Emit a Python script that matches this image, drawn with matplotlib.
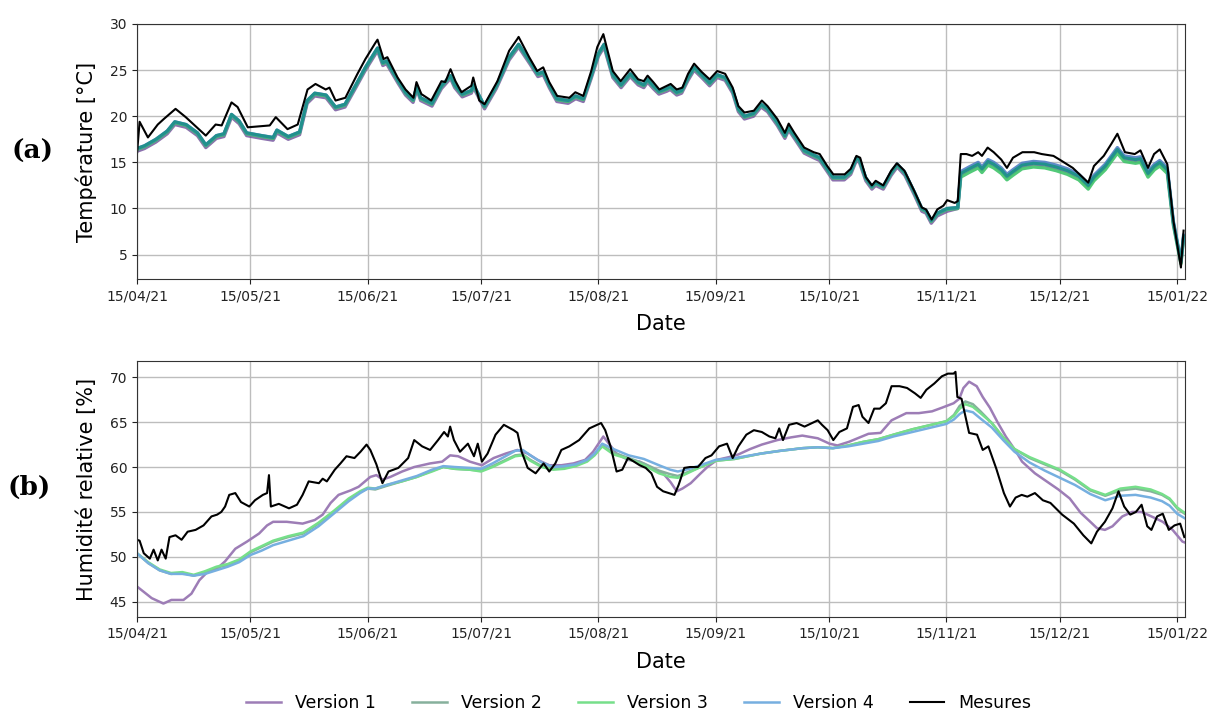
import numpy as np
import pandas as pd
import matplotlib
matplotlib.use('Agg')
import matplotlib.pyplot as plt
import matplotlib.dates as mdates

# ---------------------------------------------------------------
# Donnees (jours depuis le 15/04/21)
# ---------------------------------------------------------------
debut = pd.Timestamp('2021-04-15')
fin = pd.Timestamp('2022-01-17 04:00')

# (a) Temperature - mesures
mt_jours = [0, 0.7, 2.9, 5.5, 7.1, 10.2, 12.9, 18.2, 20.8, 22.4, 25.0, 26.6, 29.3, 35.1, 36.7, 39.8, 42.5,
            45.1, 47.2, 49.9, 50.9, 52.5, 55.1, 58.3, 60.4, 63.1, 63.6, 65.2, 66.2, 68.9, 71.0, 73.1, 73.9,
            75.2, 77.8, 80.5, 81.5, 82.9, 84.2, 85.8, 88.4, 88.9, 90.5, 91.9, 95.3, 98.4, 100.6, 100.9,
            103.7, 105.8, 107.4, 109.0, 111.1, 114.3, 115.9, 118.0, 120.1, 121.7, 123.3, 125.8, 127.9,
            130.4, 132.5, 134.0, 135.0, 136.5, 138.1, 140.1, 141.1, 142.7, 144.2, 145.7, 147.3, 149.3,
            151.4, 153.4, 155.5, 157.5, 159.0, 160.6, 163.1, 165.2, 166.7, 169.3, 171.3, 172.3, 173.8,
            176.4, 178.9, 180.5, 182.5, 184.1, 187.1, 188.7, 190.2, 191.2, 192.7, 194.3, 195.3, 197.3,
            199.4, 200.9, 202.9, 205.5, 207.5, 208.6, 210.1, 211.6, 213.2, 214.2, 216.2, 217.0, 217.8,
            219.3, 220.8, 222.4, 223.4, 224.9, 226.5, 228.5, 230.0, 231.6, 234.1, 237.2, 239.2, 242.3,
            244.3, 247.4, 251.5, 253.0, 255.6, 257.6, 259.2, 261.2, 263.8, 265.3, 267.3, 268.9, 270.4,
            272.4, 274.0, 276.0, 276.7]
mt_vals = [15.9, 19.4, 17.7, 19.1, 19.7, 20.8, 19.9, 17.9, 19.1, 19.0, 21.5, 21.0, 18.8, 19.0, 19.9, 18.6, 19.1,
           22.9, 23.5, 22.9, 23.1, 21.7, 22.0, 24.6, 26.2, 28.0, 28.3, 26.2, 26.4, 24.2, 22.9, 22.0, 23.7,
           22.4, 21.7, 23.8, 23.7, 25.1, 23.8, 22.6, 23.3, 24.2, 21.7, 21.3, 23.8, 27.1, 28.4, 28.6,
           26.4, 24.9, 25.3, 23.7, 22.2, 22.0, 22.6, 22.2, 24.9, 27.5, 28.9, 24.9, 23.8,
           25.1, 24.0, 23.8, 24.4, 23.7, 22.9, 23.3, 23.5, 22.9, 23.1, 24.6, 25.7, 24.8,
           24.0, 24.9, 24.6, 23.1, 21.1, 20.4, 20.6, 21.7, 21.1, 19.7, 18.2, 19.2, 18.2,
           16.6, 16.1, 15.9, 14.6, 13.7, 13.7, 14.3, 15.7, 15.5, 13.4, 12.5, 13.0, 12.5,
           14.1, 14.9, 14.1, 11.9, 10.1, 9.9, 8.8, 9.9, 10.3, 10.9, 10.6, 10.8, 15.9,
           15.9, 15.7, 16.1, 15.7, 16.6, 16.1, 15.3, 14.4, 15.5, 16.1, 16.1, 15.9, 15.7,
           15.2, 14.4, 12.8, 14.6, 15.7, 17.0, 18.1, 16.1, 15.9, 16.3, 14.4, 15.9, 16.4,
           14.8, 8.7, 3.6, 7.6]

# (a) Temperature - versions du modele
tv_jours = [0, 2, 5, 8, 10, 13, 16, 18.2, 21, 23, 25, 27, 29, 33, 36, 37, 40, 43, 45, 47, 50, 52.5, 55, 58,
            60.4, 63.6, 65, 66, 69, 71, 73, 74, 75, 78, 80.5, 82.9, 84, 86, 88.4, 89, 91.9, 95, 98.4, 100.9,
            104, 106, 107.4, 109, 111, 114, 116, 118, 120, 122, 123.5, 125.8, 128, 130.4, 132.5, 134, 135,
            136.5, 138, 140, 141, 142.7, 144, 145.7, 147.3, 149.3, 151.4, 153.4, 155.5, 157.5, 159, 160.6,
            163, 165, 166.7, 169.3, 171.3, 172.3, 173.8, 176.4, 178.9, 180.5, 182.5, 184, 187, 188.7, 190.2,
            191, 192.7, 194.3, 195.3, 197.3, 199.4, 201, 203, 205.5, 207.5, 208.6, 210, 211.6, 213.2, 214.2,
            217, 217.8, 220, 222.4, 223.4, 225, 226.5, 228.5, 230, 231.6, 234, 237, 240, 243, 246, 249,
            251.5, 253, 256, 259.2, 261, 264, 265.3, 267.3, 269, 270.4, 272.4, 274, 276, 276.7]
t_v1 = [16.2, 16.5, 17.2, 18.1, 19.1, 18.8, 17.9, 16.6, 17.6, 17.8, 19.9, 19.2, 17.9, 17.6, 17.4, 18.2, 17.5, 18.0,
        21.4, 22.2, 22.0, 20.7, 21.0, 23.2, 25.0, 27.1, 25.5, 25.7, 23.6, 22.3, 21.5, 22.9, 21.7, 21.1, 23.0,
        24.1, 23.1, 22.1, 22.5, 23.1, 20.8, 23.0, 26.1, 27.5, 25.6, 24.3, 24.5, 23.1, 21.6, 21.4, 21.9, 21.6,
        24.0, 26.5, 27.5, 24.2, 23.1, 24.3, 23.4, 23.1, 23.7, 23.0, 22.4, 22.7, 22.9, 22.3, 22.5, 23.9, 25.0,
        24.2, 23.3, 24.2, 23.9, 22.5, 20.5, 19.7, 20.0, 21.0, 20.5, 19.0, 17.6, 18.5, 17.6, 16.0, 15.5, 15.2,
        14.0, 13.1, 13.1, 13.7, 15.2, 15.0, 13.0, 12.1, 12.5, 12.1, 13.6, 14.5, 13.6, 11.5, 9.7, 9.5, 8.4,
        9.2, 9.5, 9.7,
        10.0, 13.7, 14.2, 14.7, 14.2, 15.0, 14.7, 14.1, 13.4, 13.9, 14.6, 14.8, 14.7, 14.4, 14.0, 13.4, 12.4,
        13.3, 14.5, 16.3, 15.4, 15.2, 15.3, 13.7, 14.5, 14.9, 14.1, 8.4, 4.1, 6.9]
t_v2 = [16.5, 16.8, 17.5, 18.4, 19.4, 19.1, 18.2, 16.9, 17.9, 18.1, 20.2, 19.5, 18.2, 17.9, 17.7, 18.5, 17.8, 18.3,
        21.7, 22.5, 22.3, 21.0, 21.3, 23.5, 25.3, 27.4, 25.8, 26.0, 23.9, 22.6, 21.8, 23.2, 22.0, 21.4, 23.3,
        24.4, 23.4, 22.4, 22.8, 23.4, 21.1, 23.3, 26.4, 27.8, 25.9, 24.6, 24.8, 23.4, 21.9, 21.7, 22.2, 21.9,
        24.3, 26.8, 27.8, 24.5, 23.4, 24.6, 23.7, 23.4, 24.0, 23.3, 22.7, 23.0, 23.2, 22.6, 22.8, 24.2, 25.3,
        24.5, 23.6, 24.5, 24.2, 22.8, 20.8, 20.0, 20.3, 21.3, 20.8, 19.3, 17.9, 18.8, 17.9, 16.3, 15.8, 15.5,
        14.3, 13.4, 13.4, 14.0, 15.5, 15.3, 13.3, 12.4, 12.8, 12.4, 13.9, 14.8, 13.9, 11.8, 10.0, 9.8, 8.7,
        9.5, 9.8, 10.0,
        10.1, 13.8, 14.3, 14.8, 14.3, 15.1, 14.8, 14.2, 13.5, 14.0, 14.7, 14.9, 14.8, 14.5, 14.1, 13.5, 12.5,
        13.4, 14.6, 16.4, 15.5, 15.3, 15.4, 13.8, 14.6, 15.0, 14.2, 8.5, 4.2, 7.0]
t_v3 = [16.4, 16.7, 17.4, 18.3, 19.3, 19.0, 18.1, 16.8, 17.8, 18.0, 20.1, 19.4, 18.1, 17.8, 17.6, 18.4, 17.7, 18.2,
        21.6, 22.4, 22.2, 20.9, 21.2, 23.4, 25.2, 27.3, 25.7, 25.9, 23.8, 22.5, 21.7, 23.1, 21.9, 21.3, 23.2,
        24.3, 23.3, 22.3, 22.7, 23.3, 21.0, 23.2, 26.3, 27.7, 25.8, 24.5, 24.7, 23.3, 21.8, 21.6, 22.1, 21.8,
        24.2, 26.7, 27.7, 24.4, 23.3, 24.5, 23.6, 23.3, 23.9, 23.2, 22.6, 22.9, 23.1, 22.5, 22.7, 24.1, 25.2,
        24.4, 23.5, 24.4, 24.1, 22.7, 20.7, 19.9, 20.2, 21.2, 20.7, 19.2, 17.8, 18.7, 17.8, 16.2, 15.7, 15.4,
        14.2, 13.3, 13.3, 13.9, 15.4, 15.2, 13.2, 12.3, 12.7, 12.3, 13.8, 14.7, 13.8, 11.7, 9.9, 9.7, 8.6,
        9.4, 9.7, 9.9,
        10.0, 13.4, 13.9, 14.4, 13.9, 14.7, 14.4, 13.8, 13.1, 13.6, 14.3, 14.5, 14.4, 14.1, 13.7, 13.1, 12.1,
        13.0, 14.2, 16.0, 15.1, 14.9, 15.0, 13.4, 14.2, 14.6, 13.8, 8.2, 4.0, 6.8]
t_v4 = [16.5, 16.8, 17.5, 18.4, 19.4, 19.1, 18.2, 16.9, 17.9, 18.1, 20.2, 19.5, 18.2, 17.9, 17.7, 18.5, 17.8, 18.3,
        21.7, 22.5, 22.3, 21.0, 21.3, 23.5, 25.3, 27.4, 25.8, 26.0, 23.9, 22.6, 21.8, 23.2, 22.0, 21.4, 23.3,
        24.4, 23.4, 22.4, 22.8, 23.4, 21.1, 23.3, 26.4, 27.8, 25.9, 24.6, 24.8, 23.4, 21.9, 21.7, 22.2, 21.9,
        24.3, 26.8, 27.8, 24.5, 23.4, 24.6, 23.7, 23.4, 24.0, 23.3, 22.7, 23.0, 23.2, 22.6, 22.8, 24.2, 25.3,
        24.5, 23.6, 24.5, 24.2, 22.8, 20.8, 20.0, 20.3, 21.3, 20.8, 19.3, 17.9, 18.8, 17.9, 16.3, 15.8, 15.5,
        14.3, 13.4, 13.4, 14.0, 15.5, 15.3, 13.3, 12.4, 12.8, 12.4, 13.9, 14.8, 13.9, 11.8, 10.0, 9.8, 8.7,
        9.5, 9.8, 10.0,
        10.1, 14.0, 14.5, 15.0, 14.5, 15.3, 15.0, 14.4, 13.7, 14.2, 14.9, 15.1, 15.0, 14.7, 14.3, 13.7, 12.7,
        13.6, 14.8, 16.6, 15.7, 15.5, 15.6, 14.0, 14.8, 15.2, 14.4, 8.6, 4.3, 7.1]

# (b) Humidite relative - mesures
mb_jours = [0, 0.7, 1.8, 3.4, 4.4, 5.5, 6.5, 7.6, 8.6, 10.2, 11.8, 13.4, 15.5, 17.6, 19.7, 21.2, 22.3, 23.3,
            24.4, 26.0, 27.5, 29.7, 31.2, 33.3, 34.4, 34.9, 35.4, 37.5, 40.2, 42.3, 43.8, 45.4, 48.1, 49.1,
            50.2, 52.3, 53.8, 55.4, 57.5, 59.1, 60.7, 61.7, 63.3, 64.9, 66.5, 69.1, 71.7, 73.3, 75.4, 77.5,
            79.6, 81.2, 82.2, 82.8, 83.8, 85.4, 87.5, 89.1, 90.1, 91.2, 92.7, 94.8, 97.0, 99.6, 100.6, 101.7,
            103.3, 105.4, 107.5, 109.0, 110.6, 112.2, 114.3, 116.9, 119.6, 121.7, 122.7, 123.8, 125.2, 126.8,
            128.3, 129.8, 131.4, 132.9, 134.5, 136.0, 137.5, 139.1, 140.6, 142.1, 143.2, 144.7, 146.2, 148.3,
            150.3, 151.9, 153.9, 156.0, 157.5, 159.0, 161.1, 163.1, 165.2, 167.2, 168.8, 169.8, 170.8, 172.4,
            174.4, 176.5, 178.5, 180.0, 181.1, 182.6, 184.1, 185.7, 187.7, 189.3, 190.8, 191.8, 193.4, 194.9,
            196.4, 198.0, 199.5, 201.6, 203.6, 205.7, 207.2, 208.7, 210.8, 212.8, 214.4, 215.9, 216.4, 216.9,
            218.0, 220.0, 222.1, 223.6, 225.1, 227.2, 229.2, 230.8, 232.3, 233.9, 235.4, 237.4, 239.5, 241.5,
            244.6, 247.7, 250.2, 252.3, 253.8, 255.9, 257.9, 259.5, 261.0, 262.6, 264.1, 265.6, 267.1, 268.2,
            269.7, 271.2, 272.8, 274.3, 275.8, 276.9]
mb_vals = [51.9, 51.8, 50.4, 49.8, 50.8, 49.6, 50.8, 49.8, 52.2, 52.4, 51.9, 52.8, 53.0, 53.5, 54.5, 54.7, 55.0, 55.6,
           56.9, 57.1, 56.1, 55.6, 56.3, 56.9, 57.1, 59.1, 55.6, 55.9, 55.4, 55.8, 56.9, 58.4, 58.2, 58.7,
           58.4, 59.7, 60.4, 61.2, 61.0, 61.7, 62.5, 61.9, 60.3, 58.2, 59.5, 59.9, 61.0, 63.0, 62.3, 61.9,
           63.0, 63.9, 63.4, 64.5, 63.0, 61.7, 62.6, 61.2, 62.6, 60.6, 61.5, 63.6, 64.7, 64.1, 63.8, 61.7,
           59.9, 59.3, 60.4, 59.5, 60.4, 61.9, 62.3, 63.0, 64.3, 64.7, 64.9, 64.1, 62.3, 59.5,
           59.7, 61.0, 60.6, 60.2, 59.9, 59.3, 57.8, 57.3, 57.1, 56.9, 58.0, 59.9, 60.0, 60.0,
           61.0, 61.3, 62.3, 62.6, 61.0, 62.3, 63.6, 64.1, 63.9, 63.4, 63.2, 64.3, 63.0, 64.7,
           64.9, 64.5, 64.9, 65.2, 64.7, 64.1, 63.0, 63.9, 64.3, 66.7, 66.9, 65.6, 64.9, 66.5,
           66.5, 67.1, 69.0, 69.0, 68.8, 68.2, 67.7, 68.6, 69.3, 70.1, 70.4, 70.4, 70.6, 67.8,
           67.6, 63.8, 63.6, 61.9, 62.3, 59.8, 57.1, 55.6, 56.6, 56.9, 56.7, 57.1, 56.3, 56.0,
           54.7, 53.7, 52.4, 51.5, 52.8, 53.9, 55.4, 57.3, 55.6, 54.7, 55.0, 55.8, 53.4, 53.0,
           54.5, 54.8, 53.0, 53.5, 53.7, 52.2]

# (b) Humidite relative - Version 1
b1_jours = [0, 3.9, 7.0, 9.1, 12.3, 14.4, 16.5, 18.6, 21.2, 23.3, 26.0, 29.1, 32.3, 34.4, 36.0, 39.6, 43.8,
            47.0, 49.1, 51.2, 53.3, 56.5, 58.6, 61.7, 63.3, 64.9, 67.0, 70.1, 73.3, 77.5, 80.7, 82.8, 84.9,
            88.0, 91.2, 94.3, 97.5, 100.6, 103.3, 105.9, 109.0, 112.2, 115.4, 118.5, 120.6, 123.3, 126.8,
            129.8, 132.9, 136.0, 139.1, 141.1, 142.7, 144.2, 146.4, 148.8, 150.8, 153.4, 156.5, 159.0, 162.1,
            165.2, 169.3, 172.9, 175.9, 180.0, 183.1, 185.2, 188.2, 193.4, 196.6, 199.5, 203.4, 206.7, 210.2,
            212.8, 215.9, 217.4, 218.5, 220.0, 222.0, 223.6, 225.5, 227.5, 229.7, 232.3, 234.0, 237.4, 240.5,
            243.6, 246.6, 249.5, 251.8, 253.8, 255.9, 257.9, 260.5, 263.1, 265.6, 268.2, 271.2, 273.8, 276.4,
            277.0]
b_v1 = [46.7, 45.4, 44.8, 45.2, 45.2, 45.9, 47.4, 48.3, 48.7, 49.5, 50.9, 51.7, 52.6, 53.5, 53.9, 53.9, 53.7,
        54.1, 54.7, 56.0, 56.9, 57.4, 57.8, 58.9, 59.1, 58.6, 58.9, 59.5, 60.0, 60.4, 60.6, 61.3, 61.2,
        60.6, 60.2, 61.0, 61.5, 61.9, 61.5, 60.8, 60.2, 60.2, 60.4, 60.8, 61.7, 63.4, 61.5,
        60.8, 60.6, 59.9, 59.3, 58.3, 57.3, 57.6, 58.2, 59.2, 60.0, 60.8, 61.1, 61.4, 62.0,
        62.5, 63.0, 63.3, 63.5, 63.2, 62.6, 62.4, 62.8, 63.7, 63.8, 65.2, 66.0, 66.0, 66.2,
        66.6, 67.1, 67.6, 68.8, 69.5, 69.0, 67.8, 66.6, 65.0, 63.4, 61.8, 60.6, 59.3, 58.4,
        57.5, 56.5, 54.9, 54.0, 53.2, 53.0, 53.4, 54.5, 55.0, 55.0, 54.5, 53.9, 53.0, 51.7,
        51.6]

# (b) Humidite relative - Versions 2, 3, 4
bv_jours = [0, 3, 6, 9, 12, 15, 18, 21, 24, 27, 30, 33, 36, 40, 44, 48, 52, 56, 59, 61, 63, 66, 70, 74, 78,
            81, 84, 88, 91, 94, 97, 100, 102, 104, 107, 110, 113, 116, 119, 121, 123, 126, 130, 134, 138,
            141, 143, 146, 149, 153, 158, 165, 170, 176, 180, 184, 188, 192, 196, 200, 205, 210, 214, 216,
            217.5, 219, 221, 223, 226, 229, 232, 236, 240, 244, 248, 252, 256, 260, 264, 268, 271, 273,
            275, 277]
b_v2 = [50.4, 49.3, 48.5, 48.1, 48.2, 47.9, 48.3, 48.8, 49.1, 49.6, 50.5, 51.1, 51.7, 52.2, 52.6, 53.7, 55.0,
        56.4, 57.2, 57.6, 57.5, 57.9, 58.4, 58.9, 59.6, 60.0, 59.8, 59.7, 59.6, 60.1, 60.7, 61.3, 61.4,
        60.8, 60.1, 59.8, 59.9, 60.2, 60.7, 61.4, 62.4, 61.6, 61.0, 60.4, 59.6, 59.2, 59.0, 59.5, 60.0,
        60.7, 60.9, 61.5, 61.8, 62.1, 62.2, 62.1, 62.4, 62.8, 63.1, 63.6, 64.2, 64.7, 65.1, 65.8, 66.8,
        67.3, 67.0, 66.2, 64.9, 63.3, 62.0, 61.0, 60.3, 59.6, 58.6, 57.4, 56.8, 57.4, 57.6, 57.3, 56.9,
        56.4, 55.4, 54.8]
b_v3 = [50.4, 49.4, 48.6, 48.2, 48.3, 48.0, 48.4, 48.9, 49.2, 49.7, 50.6, 51.2, 51.8, 52.3, 52.7, 53.8, 55.1,
        56.5, 57.3, 57.7, 57.6, 58.0, 58.4, 58.9, 59.5, 60.0, 59.8, 59.7, 59.5, 60.0, 60.6, 61.2, 61.3,
        60.7, 60.0, 59.7, 59.8, 60.1, 60.6, 61.3, 62.3, 61.4, 60.9, 60.2, 59.3, 58.9, 58.8, 59.4, 60.0,
        60.7, 60.9, 61.5, 61.8, 62.1, 62.2, 62.1, 62.4, 62.8, 63.1, 63.6, 64.2, 64.7, 65.1, 65.7, 66.5,
        67.0, 66.7, 66.0, 64.9, 63.3, 62.0, 61.1, 60.4, 59.7, 58.7, 57.5, 56.9, 57.6, 57.8, 57.5, 57.0,
        56.5, 55.5, 54.9]
b_v4 = [50.4, 49.3, 48.5, 48.1, 48.1, 47.9, 48.1, 48.5, 48.9, 49.4, 50.2, 50.7, 51.3, 51.8, 52.3, 53.4, 54.8,
        56.2, 57.1, 57.6, 57.6, 58.0, 58.5, 59.0, 59.7, 60.1, 60.0, 59.9, 59.8, 60.4, 61.1, 61.8, 61.9,
        61.3, 60.5, 60.0, 60.1, 60.3, 60.8, 61.5, 62.6, 62.0, 61.3, 60.9, 60.2, 59.7, 59.5, 59.8, 60.2,
        60.8, 61.0, 61.5, 61.8, 62.1, 62.2, 62.1, 62.3, 62.6, 62.9, 63.4, 63.9, 64.4, 64.8, 65.3, 65.9,
        66.3, 66.1, 65.4, 64.4, 63.0, 61.7, 60.5, 59.6, 58.8, 58.0, 57.0, 56.3, 56.8, 56.9, 56.6, 56.2,
        55.7, 54.8, 54.3]

noms = ['Version 1', 'Version 2', 'Version 3', 'Version 4', 'Mesures']
coul_a = ['#6f4e9a', '#21918c', '#3fc46a', '#4f7fc4']   # traits (a)
coul_b = ['#9d7db6', '#86b09c', '#76df8a', '#76afe0']   # traits (b) + legende


def dates(jours):
    return debut + pd.to_timedelta(jours, unit='D')


fig = plt.figure(figsize=(12.12, 7.13), dpi=100)
ax1 = fig.add_axes([0.113, 0.608, 0.865, 0.359])
ax2 = fig.add_axes([0.113, 0.135, 0.865, 0.358])

# ---------------- (a) Temperature ----------------
ax1.plot(dates(tv_jours), t_v1, color=coul_a[0], lw=2.4, alpha=0.8)
ax1.plot(dates(tv_jours), t_v3, color=coul_a[2], lw=2.4, alpha=0.9)
ax1.plot(dates(tv_jours), t_v4, color=coul_a[3], lw=2.4, alpha=0.9)
ax1.plot(dates(tv_jours), t_v2, color=coul_a[1], lw=2.2)
ax1.plot(dates(mt_jours), mt_vals, color='k', lw=1.5)
ax1.set_ylim(2.3, 30.05)
ax1.set_ylabel('Température [°C]', fontsize=15, labelpad=9)

# ---------------- (b) Humidite ----------------
lignes = []
lignes += ax2.plot(dates(b1_jours), b_v1, color=coul_b[0], lw=1.8, label=noms[0])
lignes += ax2.plot(dates(bv_jours), b_v2, color=coul_b[1], lw=1.8, label=noms[1])
lignes += ax2.plot(dates(bv_jours), b_v3, color=coul_b[2], lw=1.8, label=noms[2])
lignes += ax2.plot(dates(bv_jours), b_v4, color=coul_b[3], lw=1.8, label=noms[3])
lignes += ax2.plot(dates(mb_jours), mb_vals, color='k', lw=1.5, label=noms[4])
ax2.set_ylim(43.33, 71.75)
ax2.set_yticks([45, 50, 55, 60, 65, 70])
ax2.set_ylabel('Humidité relative [%]', fontsize=15, labelpad=9)

for ax in (ax1, ax2):
    ax.set_xlim(debut, fin)
    ax.xaxis.set_major_locator(mdates.MonthLocator(bymonthday=15))
    ax.xaxis.set_major_formatter(mdates.DateFormatter('%d/%m/%y'))
    ax.tick_params(labelsize=10, colors='#222222')
    ax.grid(True, color='#bdbdbd', lw=1.0)
    ax.set_axisbelow(True)
    ax.set_xlabel('Date', fontsize=15, labelpad=8)
    for s in ax.spines.values():
        s.set_color('#333333')

fig.text(0.027, 0.787, '(a)', fontsize=19, fontweight='bold', family='DejaVu Serif',
         ha='center', va='center')
fig.text(0.024, 0.316, '(b)', fontsize=19, fontweight='bold', family='DejaVu Serif',
         ha='center', va='center')

fig.legend(lignes, noms, loc='center', bbox_to_anchor=(0.527, 0.014), ncol=5, frameon=False,
           fontsize=12.5, columnspacing=2.1, handletextpad=0.8, borderpad=0.1)

fig.savefig('out.png', dpi=100)
